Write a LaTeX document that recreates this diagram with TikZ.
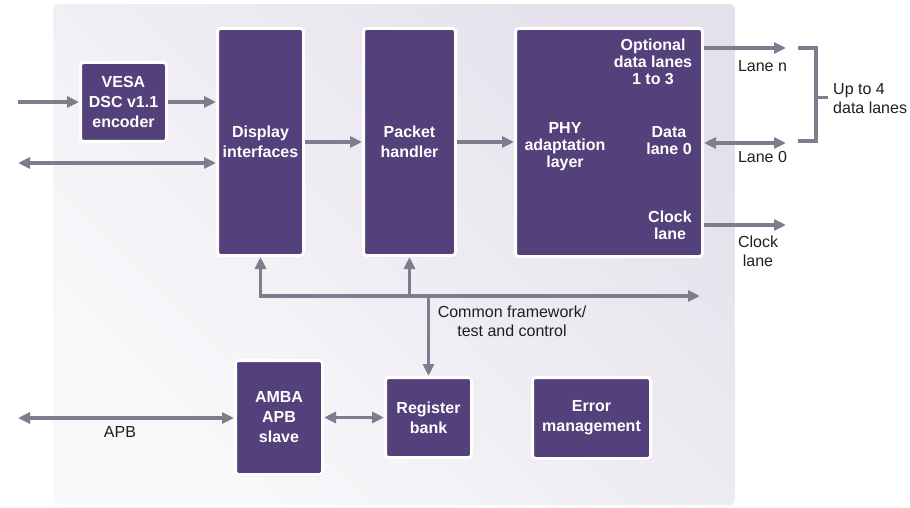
\documentclass[tikz,border=0pt]{standalone}
\usepackage{fontspec}
\setmainfont{Liberation Sans}
\usetikzlibrary{arrows.meta,shadows}

\definecolor{blockpurple}{HTML}{54407A}
\definecolor{wire}{HTML}{7F7D8D}
\definecolor{panelhi}{HTML}{E5E1EC}
\definecolor{panello}{HTML}{F9F9FB}
\definecolor{labelink}{HTML}{1E1E1E}

\begin{document}
\begin{tikzpicture}[x=1pt,y=-1pt,
  >={Triangle[length=12pt,width=11pt]},
  block/.style={draw=white, line width=3pt, fill=blockpurple, rounded corners=3pt,
    inner sep=0pt, text=white, align=center,
    font=\bfseries\fontsize{16}{20}\selectfont,
    drop shadow={opacity=0.22, shadow xshift=1.2pt, shadow yshift=-1.5pt}},
  phytext/.style={inner sep=0pt, text=white, align=center,
    font=\bfseries\fontsize{16}{17}\selectfont},
  lbl/.style={inner sep=0pt, text=labelink, align=center,
    font=\fontsize{16}{19.5}\selectfont},
  bus/.style={draw=wire, line width=3.8pt, line join=miter},
  sig/.style={bus, ->},
  bisig/.style={bus, <->}]

\useasboundingbox (0,0) rectangle (910,508);

% IP core panel
\path[draw=white, line width=2pt, rounded corners=6pt,
      top color=panelhi, bottom color=panello, shading angle=-45,
      drop shadow={opacity=0.3, shadow xshift=0pt, shadow yshift=-1pt}]
  (52,3) rectangle (736,506);

% functional blocks
\node[block, minimum width=86pt, minimum height=79pt]  (vesa) at (123.5,102) {VESA\\DSC v1.1\\encoder};
\node[block, minimum width=86pt, minimum height=227pt] (disp) at (260.5,142) {Display\\interfaces};
\node[block, minimum width=92pt, minimum height=227pt] (pkt)  at (409.5,142) {Packet\\handler};
\node[block, minimum width=187pt, minimum height=228pt] (phy) at (609,142.5) {};
\node[block, minimum width=87pt, minimum height=114pt] (amba) at (279,417.5) {AMBA\\APB\\slave};
\node[block, minimum width=86pt, minimum height=80pt]  (reg)  at (428.5,417.5) {Register\\bank};
\node[block, minimum width=118pt, minimum height=81pt] (err)  at (591.5,418) {Error\\management};

% texts inside the PHY adaptation layer
\node[phytext] (phyname) at (565,146.5) {PHY\\adaptation\\layer};
\node[phytext] (phyopt)  at (653,62)    {Optional\\data lanes\\1 to 3};
\node[phytext] (phyd0)   at (669,141)   {Data\\lane 0};
\node[phytext] (phyclk)  at (670,225.5) {Clock\\lane};

% video input side
\coordinate (inA) at (18,102);
\coordinate (inB) at (18,163);
\draw[sig]   (inA) -- (vesa.west);
\draw[sig]   (vesa.east) -- (vesa.east -| disp.west);
\draw[bisig] (inB) -- (inB -| disp.west);

% main data path
\draw[sig] (disp.east) -- (pkt.west);
\draw[sig] (pkt.east) -- (pkt.east -| phy.west);

% lanes
\coordinate (laneN) at (786,48);
\coordinate (laneZ) at (786,143);
\coordinate (laneC) at (786,225);
\draw[sig]   (laneN -| phy.east) -- (laneN);
\draw[bisig] (laneZ -| phy.east) -- (laneZ);
\draw[sig]   (laneC -| phy.east) -- (laneC);
\node[lbl] (lnlbl)  at (762.5,66)   {Lane n};
\node[lbl] (l0lbl)  at (762.5,157)  {Lane 0};
\node[lbl] (clklbl) at (758,251.5)  {Clock\\lane};

% bracket grouping the data lanes
\coordinate (brT) at (798,48);
\coordinate (brB) at (798,141);
\coordinate (brM) at (816,97.5);
\coordinate (brS) at (828,97.5);
\draw[bus] (brT) -| (brM) |- (brB);
\draw[bus] (brM) -- (brS);
\node[lbl, anchor=west, align=left] (up4) at (833,98.5) {Up to 4\\data lanes};

% common framework bus
\coordinate (busE) at (700,296);
\draw[bisig] (disp.south) |- (busE);
\draw[sig] (pkt.south |- busE) -- (pkt.south);
\draw[sig] (reg.north |- busE) -- (reg.north);
\node[lbl] (comm) at (512,321.5) {Common framework/\\test and control};

% register access
\coordinate (apbL) at (18,418);
\draw[bisig] (apbL) -- (apbL -| amba.west);
\draw[bisig] (amba.east) -- (amba.east -| reg.west);
\node[lbl] (apblbl) at (120,432) {APB};

\end{tikzpicture}
\end{document}
